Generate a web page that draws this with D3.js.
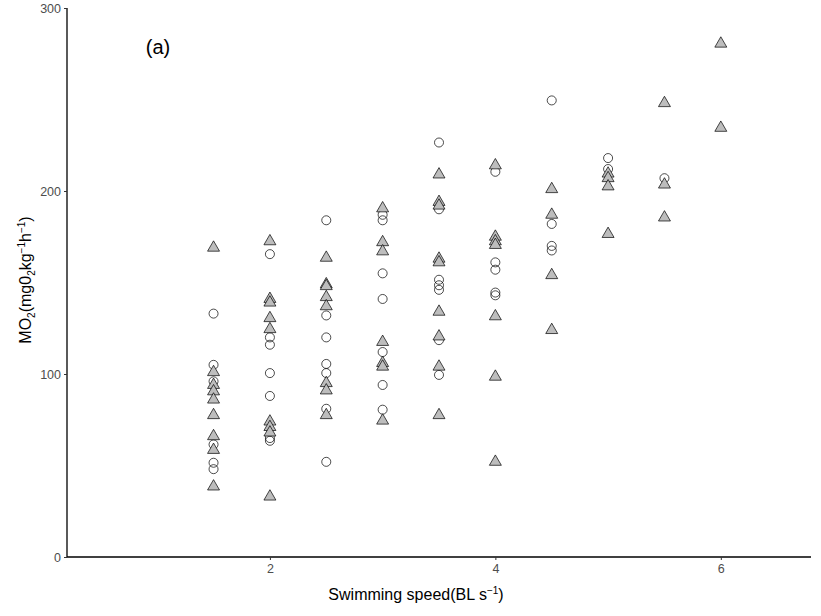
<!DOCTYPE html>
<html>
<head>
<meta charset="utf-8">
<script src="https://cdn.jsdelivr.net/npm/d3@7.9.0/dist/d3.min.js"></script>
<style>
  body { margin: 0; background: #fff; }
  svg { font-family: "Liberation Sans", Arial, sans-serif; }
</style>
</head>
<body>
<svg id="chart" width="821" height="616"></svg>
<script>
// open circles
const circleSpeed = [1.5,1.5,1.5,1.5,1.5,1.5,
  2,2,2,2,2,2,2,
  2.5,2.5,2.5,2.5,2.5,2.5,2.5,
  3,3,3,3,3,3,3,
  3.5,3.5,3.5,3.5,3.5,3.5,3.5,
  4,4,4,4,4,
  4.5,4.5,4.5,4.5,
  5,5,
  5.5];
const circleMO2 = [133, 105, 96, 61.5, 51.5, 48,
  165.5, 120, 116, 100.5, 88, 65, 63.5,
  184, 132, 120, 105.5, 100.5, 81, 52,
  187, 184, 155, 141, 112, 94, 80.5,
  226.5, 190, 151.5, 148.5, 146, 118.5, 99.5,
  210.5, 161, 157, 144.5, 143,
  249.5, 182, 170, 167.5,
  218, 212,
  207];

// grey triangles
const triSpeed = [1.5,1.5,1.5,1.5,1.5,1.5,1.5,1.5,1.5,
  2,2,2,2,2,2,2,2,2,
  2.5,2.5,2.5,2.5,2.5,2.5,2.5,2.5,
  3,3,3,3,3,3,3,
  3.5,3.5,3.5,3.5,3.5,3.5,3.5,3.5,3.5,
  4,4,4,4,4,4,4,
  4.5,4.5,4.5,4.5,
  5,5,5,5,
  5.5,5.5,5.5,
  6,6];
const triMO2 = [169, 101, 94, 90.5, 86, 77.5, 66, 58.5, 38.5,
  172.5, 141, 139, 130.5, 124.5, 74, 71, 68, 33,
  163.5, 149, 148, 142, 137, 95, 91, 77.5,
  190.5, 172, 167, 117.5, 106, 104, 74.5,
  209, 194, 192, 163, 161, 134, 120.5, 104, 77.5,
  214, 175, 172.5, 170.5, 131.5, 98.5, 52,
  201, 187, 154, 124,
  209.5, 207, 202.5, 176.5,
  248, 203.5, 185.5,
  280.5, 234.5];

const xTicks = [2, 4, 6];
const yTicks = [0, 100, 200, 300];

const svg = d3.select("#chart");
const mLeft = 67, mRight = 811, mTop = 8, mBottom = 557;

const x = d3.scaleLinear().domain([0.2, 6.8]).range([mLeft, mRight]);
const y = d3.scaleLinear().domain([0, 300]).range([mBottom, mTop]);

// axes
const xAxis = svg.append("g")
  .attr("transform", `translate(0,${mBottom})`)
  .call(d3.axisBottom(x).tickValues(xTicks).tickSize(3).tickPadding(4).tickFormat(d3.format("d")));
const yAxis = svg.append("g")
  .attr("transform", `translate(${mLeft},0)`)
  .call(d3.axisLeft(y).tickValues(yTicks).tickSize(3).tickPadding(3).tickFormat(d3.format("d")));

[xAxis, yAxis].forEach(g => {
  g.select(".domain").attr("stroke", "#000").attr("stroke-width", 1.3);
  g.selectAll(".tick line").attr("stroke", "#333").attr("stroke-width", 1);
  g.selectAll(".tick text").attr("fill", "#4d4d4d").style("font-size", "12.5px")
    .style("font-family", "'Liberation Sans', Arial, sans-serif");
});
xAxis.select(".domain").attr("d", `M${mLeft},0H${mRight}`);
yAxis.select(".domain").attr("d", `M0,${mTop}V${mBottom}`);

// points
const circles = circleSpeed.map((s, i) => ({ s, v: circleMO2[i] }));
const tris = triSpeed.map((s, i) => ({ s, v: triMO2[i] }));

svg.append("g").selectAll("path")
  .data(circles)
  .enter()
  .append("path")
  .attr("d", d3.symbol().type(d3.symbolCircle).size(64))
  .attr("transform", d => `translate(${x(d.s)},${y(d.v)})`)
  .attr("fill", "none")
  .attr("stroke", "#000")
  .attr("stroke-width", 0.7);

svg.append("g").selectAll("path")
  .data(tris)
  .enter()
  .append("path")
  .attr("d", d3.symbol().type(d3.symbolTriangle).size(62))
  .attr("transform", d => `translate(${x(d.s)},${y(d.v)})`)
  .attr("fill", "#bdbdbd")
  .attr("stroke", "#000")
  .attr("stroke-width", 0.7);

// panel tag
svg.append("text")
  .attr("x", 158).attr("y", 54)
  .attr("text-anchor", "middle")
  .style("font-size", "20px")
  .text("(a)");

// x title
const xt = svg.append("text")
  .attr("x", 416).attr("y", 600)
  .attr("text-anchor", "middle")
  .style("font-size", "16px");
xt.append("tspan").text("Swimming speed(BL s");
xt.append("tspan").attr("dy", -6).style("font-size", "10px").text("\u22121");
xt.append("tspan").attr("dy", 6).text(")");

// y title
const yt = svg.append("text")
  .attr("transform", "translate(31,280) rotate(-90)")
  .attr("text-anchor", "middle")
  .style("font-size", "16px");
yt.append("tspan").text("MO");
yt.append("tspan").attr("dy", 4).style("font-size", "10px").text("2");
yt.append("tspan").attr("dy", -4).text("(mg0");
yt.append("tspan").attr("dy", 4).style("font-size", "10px").text("2");
yt.append("tspan").attr("dy", -4).text("kg");
yt.append("tspan").attr("dy", -6).style("font-size", "10px").text("\u22121");
yt.append("tspan").attr("dy", 6).text("h");
yt.append("tspan").attr("dy", -6).style("font-size", "10px").text("\u22121");
yt.append("tspan").attr("dy", 6).text(")");
</script>
</body>
</html>
